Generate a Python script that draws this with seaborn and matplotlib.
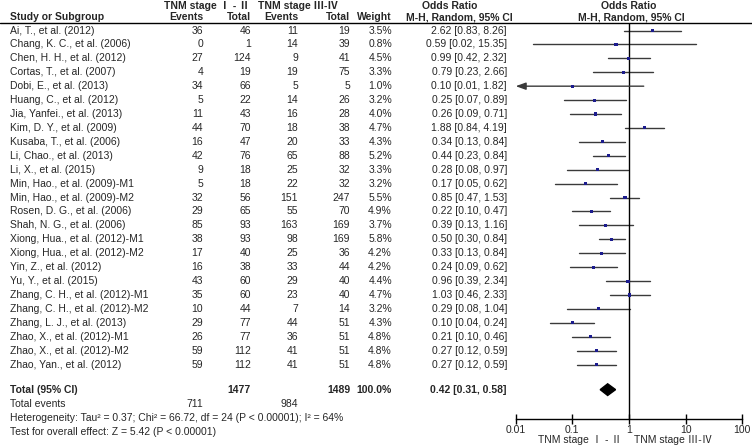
import numpy as np
import pandas as pd
import matplotlib
matplotlib.use("Agg")
import matplotlib.pyplot as plt
import seaborn as sns

# ================= DATA =================
studies = [
    "Ai, T., et al. (2012)", "Chang, K. C., et al. (2006)", "Chen, H. H., et al. (2012)",
    "Cortas, T., et al. (2007)", "Dobi, E., et al. (2013)", "Huang, C., et al. (2012)",
    "Jia, Yanfei., et al. (2013)", "Kim, D. Y., et al. (2009)", "Kusaba, T., et al. (2006)",
    "Li, Chao., et al. (2013)", "Li, X., et al. (2015)", "Min, Hao., et al. (2009)-M1",
    "Min, Hao., et al. (2009)-M2", "Rosen, D. G., et al. (2006)", "Shah, N. G., et al. (2006)",
    "Xiong, Hua., et al. (2012)-M1", "Xiong, Hua., et al. (2012)-M2", "Yin, Z., et al. (2012)",
    "Yu, Y., et al. (2015)", "Zhang, C. H., et al. (2012)-M1", "Zhang, C. H., et al. (2012)-M2",
    "Zhang, L. J., et al. (2013)", "Zhao, X., et al. (2012)-M1", "Zhao, X., et al. (2012)-M2",
    "Zhao, Yan., et al. (2012)",
]
events_early = [36, 0, 27, 4, 34, 5, 11, 44, 16, 42, 9, 5, 32, 29, 85, 38, 17, 16, 43, 35, 10, 29, 26, 59, 59]
total_early = [46, 1, 124, 19, 66, 22, 43, 70, 47, 76, 18, 18, 56, 65, 93, 93, 40, 38, 60, 60, 44, 77, 77, 112, 112]
events_late = [11, 14, 9, 19, 5, 14, 16, 18, 20, 65, 25, 22, 151, 55, 163, 98, 25, 33, 29, 23, 7, 44, 36, 41, 41]
total_late = [19, 39, 41, 75, 5, 26, 28, 38, 33, 88, 32, 32, 247, 70, 169, 169, 36, 44, 40, 40, 14, 51, 51, 51, 51]
weights = [3.5, 0.8, 4.5, 3.3, 1.0, 3.2, 4.0, 4.7, 4.3, 5.2, 3.3, 3.2, 5.5, 4.9, 3.7, 5.8, 4.2, 4.2, 4.4, 4.7, 3.2, 4.3, 4.8, 4.8, 4.8]
odds = [2.62, 0.59, 0.99, 0.79, 0.10, 0.25, 0.26, 1.88, 0.34, 0.44, 0.28, 0.17, 0.85, 0.22, 0.39, 0.50, 0.33, 0.24, 0.96, 1.03, 0.29, 0.10, 0.21, 0.27, 0.27]
ci_low = [0.83, 0.02, 0.42, 0.23, 0.01, 0.07, 0.09, 0.84, 0.13, 0.23, 0.08, 0.05, 0.47, 0.10, 0.13, 0.30, 0.13, 0.09, 0.39, 0.46, 0.08, 0.04, 0.10, 0.12, 0.12]
ci_high = [8.26, 15.35, 2.32, 2.66, 1.82, 0.89, 0.71, 4.19, 0.84, 0.84, 0.97, 0.62, 1.53, 0.47, 1.16, 0.84, 0.84, 0.62, 2.34, 2.33, 1.04, 0.24, 0.46, 0.59, 0.59]

total_n = [1477, 1489]
total_events = [711, 984]
pooled = [0.42, 0.31, 0.58]
x_ticks = [0.01, 0.1, 1, 10, 100]
x_ticklabels = ["0.01", "0.1", "1", "10", "100"]

het_text = "Heterogeneity: Tau\u00b2 = 0.37; Chi\u00b2 = 66.72, df = 24 (P < 0.00001); I\u00b2 = 64%"
effect_text = "Test for overall effect: Z = 5.42 (P < 0.00001)"
grp_early = "TNM stage \u2160 - \u2161"
grp_late = "TNM stage \u2162-\u2163"

df = pd.DataFrame({"study": studies, "or": odds, "lo": ci_low, "hi": ci_high})
df["row"] = np.arange(len(df))

# ================= LAYOUT (pixels) =================
W, H = 752, 447
Y0, DY = 30.5, 13.92
TOTAL_ROW = 25.8
FS = 7.5

def ypix(r):
    return Y0 + r * DY

sns.set_theme(style="white")
plt.rcParams["font.family"] = ["Liberation Sans", "Noto Sans CJK SC", "DejaVu Sans"]

fig = plt.figure(figsize=(W / 100, H / 100), dpi=100)
tab = fig.add_axes([0, 0, 1, 1])
tab.set_xlim(0, W)
tab.set_ylim(H, 0)
tab.axis("off")

# ================= HEADER =================
hb = dict(fontsize=FS, fontweight="bold", va="center")
tab.text(207, 6, grp_early, ha="center", **hb)
tab.text(298, 6, grp_late, ha="center", **hb)
tab.text(450, 6, "Odds Ratio", ha="center", **hb)
tab.text(629, 6, "Odds Ratio", ha="center", **hb)
tab.text(10, 17, "Study or Subgroup", ha="left", **hb)
for x, lab in [(203, "Events"), (251, "Total"), (298, "Events"), (350, "Total"), (392, "Weight")]:
    tab.text(x, 17, lab, ha="right", **hb)
tab.text(459, 17, "M-H, Random, 95% CI", ha="center", **hb)
tab.text(631, 17, "M-H, Random, 95% CI", ha="center", **hb)
tab.plot([0, W], [22.7, 22.7], color="black", lw=1)

# ================= STUDY ROWS =================
for i in range(len(studies)):
    y = ypix(i)
    tab.text(10, y, studies[i], ha="left", va="center", fontsize=FS)
    tab.text(203, y, str(events_early[i]), ha="right", va="center", fontsize=FS)
    tab.text(251, y, str(total_early[i]), ha="right", va="center", fontsize=FS)
    tab.text(298, y, str(events_late[i]), ha="right", va="center", fontsize=FS)
    tab.text(350, y, str(total_late[i]), ha="right", va="center", fontsize=FS)
    tab.text(392, y, f"{weights[i]:.1f}%", ha="right", va="center", fontsize=FS)
    tab.text(507, y, f"{odds[i]:.2f} [{ci_low[i]:.2f}, {ci_high[i]:.2f}]", ha="right", va="center", fontsize=FS)

# ================= TOTALS =================
yt = ypix(TOTAL_ROW)
tb = dict(fontsize=FS, fontweight="bold", va="center")
tab.text(10, yt, "Total (95% CI)", ha="left", **tb)
tab.text(251, yt, str(total_n[0]), ha="right", **tb)
tab.text(350, yt, str(total_n[1]), ha="right", **tb)
tab.text(392, yt, "100.0%", ha="right", **tb)
tab.text(507, yt, f"{pooled[0]:.2f} [{pooled[1]:.2f}, {pooled[2]:.2f}]", ha="right", **tb)
tab.text(10, 404, "Total events", ha="left", va="center", fontsize=FS)
tab.text(203, 404, str(total_events[0]), ha="right", va="center", fontsize=FS)
tab.text(298, 404, str(total_events[1]), ha="right", va="center", fontsize=FS)
tab.text(10, 418, het_text, ha="left", va="center", fontsize=FS)
tab.text(10, 432, effect_text, ha="left", va="center", fontsize=FS)

# ================= FOREST PLOT =================
x_left, x_right, y_top, y_axis = 515.7, 742.3, 22.7, 418.5
ax = fig.add_axes([x_left / W, 1 - y_axis / H, (x_right - x_left) / W, (y_axis - y_top) / H])
ax.set_xscale("log")
ax.set_xlim(0.01, 100)
ax.set_ylim((y_axis - Y0) / DY, (y_top - Y0) / DY)
ax.patch.set_alpha(0)

line_col = "#3a3a3a"
for _, r in df.iterrows():
    if r["lo"] <= 0.01:
        ax.annotate("", xy=(0.01, r["row"]), xytext=(r["hi"], r["row"]),
                    arrowprops=dict(arrowstyle="-|>,head_length=0.5,head_width=0.18",
                                    color=line_col, lw=1, shrinkA=0, shrinkB=0))
    else:
        ax.plot([r["lo"], r["hi"]], [r["row"], r["row"]], color=line_col, lw=1)

sns.scatterplot(data=df, x="or", y="row", marker="s", s=5, color="#1c1c8e",
                edgecolor="none", ax=ax, zorder=3, legend=False)

# pooled diamond
ax.fill([pooled[1], pooled[0], pooled[2], pooled[0]],
        [TOTAL_ROW, TOTAL_ROW - 0.42, TOTAL_ROW, TOTAL_ROW + 0.42], color="black")

ax.axvline(1, color="black", lw=1)
for s in ["top", "left", "right"]:
    ax.spines[s].set_visible(False)
ax.spines["bottom"].set_color("black")
ax.spines["bottom"].set_linewidth(1)
ax.set_xticks(x_ticks)
ax.set_xticklabels(x_ticklabels)
ax.minorticks_off()
ax.tick_params(axis="x", direction="inout", length=7, width=1, color="black",
               labelsize=FS, pad=1.5, bottom=True)
ax.set_yticks([])
ax.set_xlabel("")
ax.set_ylabel("")

tab.text(621.7, 440, grp_early, ha="right", va="center", fontsize=FS)
tab.text(634, 440, grp_late, ha="left", va="center", fontsize=FS)

fig.savefig("out.png", dpi=100)
